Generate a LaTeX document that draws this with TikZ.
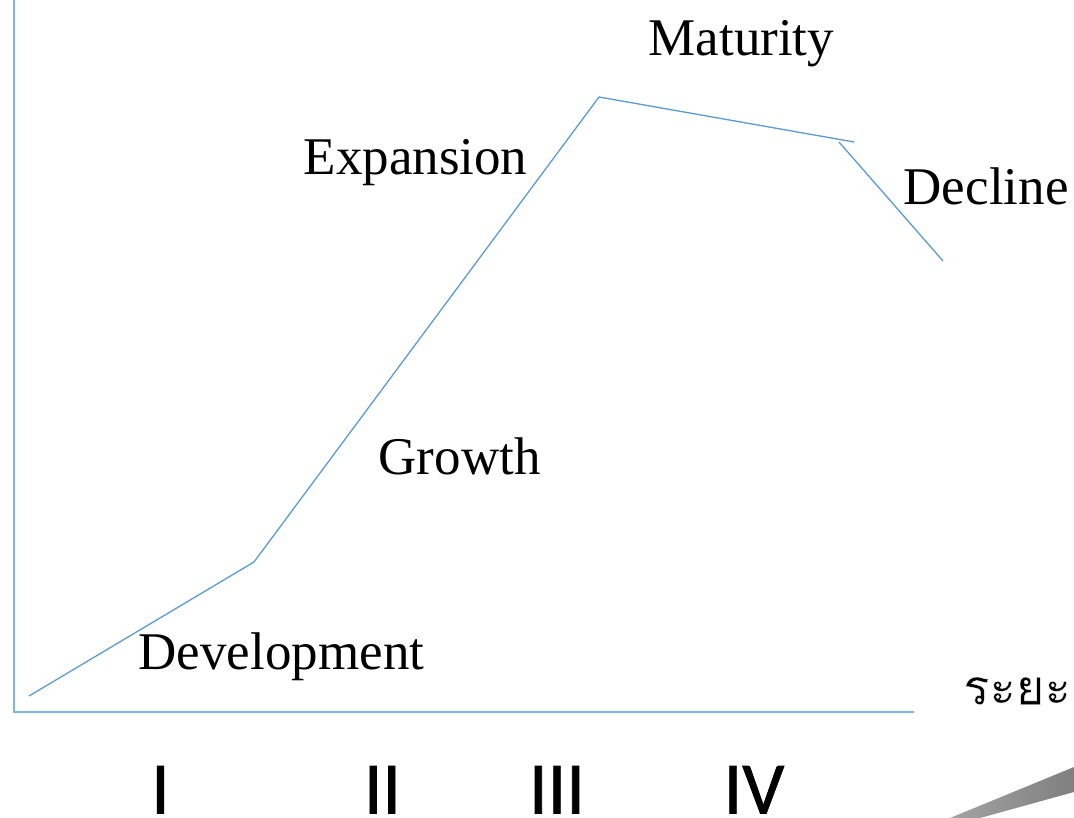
\documentclass[tikz,border=0pt]{standalone}
\usepackage{fontspec}
\setmainfont{Liberation Serif}
\newfontfamily\thaifont[Script=Thai,FakeBold=0.7]{Loma}
\newfontfamily\numfont[FakeBold=1.0]{Carlito}
\definecolor{curveblue}{RGB}{91,155,213}
\definecolor{axisblue}{RGB}{130,180,226}
\begin{document}
\begin{tikzpicture}[x=1pt,y=-1pt,
  curve/.style={draw=curveblue,line width=1.3pt},
  axis/.style={draw=axisblue,line width=1.4pt},
  stage/.style={font=\fontsize{53}{53}\selectfont,text=black,inner sep=0pt,anchor=base west},
  numeral/.style={font=\numfont\fontsize{74}{74}\selectfont,text=black,inner sep=0pt,anchor=base}]
\useasboundingbox (0,0) rectangle (1074,818);
\fill[white] (0,0) rectangle (1074,818);
% grey wedge
\shade[left color=black!36,right color=black!50] (950,818) -- (1074,767) -- (1074,792) -- (980,818) -- cycle;
% axes
\coordinate (top) at (14,0);
\coordinate (origin) at (14,712);
\coordinate (xend) at (914,712);
\draw[axis] (top) -- (origin) -- (xend);
% curve
\coordinate (p0) at (29,696);
\coordinate (p1) at (254,562);
\coordinate (p2) at (599,97);
\coordinate (p3) at (854,142);
\coordinate (q0) at (839,142);
\coordinate (q1) at (943,261);
\draw[curve] (p0) -- (p1) -- (p2) -- (p3);
\draw[curve] (q0) -- (q1);
% labels
\node[stage] (maturity) at (648.5,55.5) {Maturity};
\node[stage] (expansion) at (303.5,175) {Expansion};
\node[stage] (decline) at (903.5,204.5) {Decline};
\node[stage] (growth) at (378.5,474) {Growth};
\node[stage] (development) at (138.5,669.5) {Development};
\node[inner sep=0pt,anchor=base west,font=\thaifont\fontsize{49}{49}\selectfont] (period) at (963,704.5) {\special{pdf:code q 1 1 1 RG}ระยะ\special{pdf:code Q}};
\node[numeral] (n1) at (160.5,813.5) {I};
\node[numeral] (n2) at (382.5,813.5) {II};
\node[numeral] (n3) at (557,813.5) {III};
\node[numeral] (n4) at (754,813.5) {IV};
\end{tikzpicture}
\end{document}
